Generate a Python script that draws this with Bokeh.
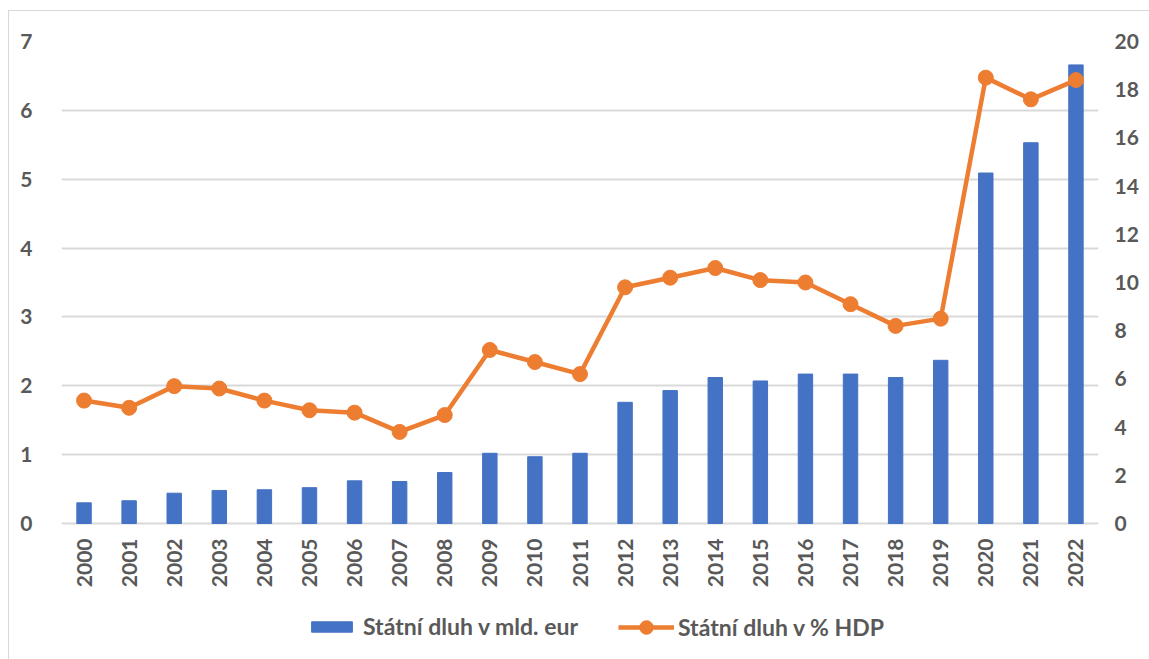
import math
from bokeh.plotting import figure
from bokeh.models import (ColumnDataSource, FactorRange, Range1d, LinearAxis,
                          FixedTicker, Legend, LegendItem)
from bokeh.embed import file_html
from bokeh.resources import INLINE

years = [str(y) for y in range(2000, 2023)]
debt_bn_eur = [0.30, 0.33, 0.44, 0.48, 0.49, 0.52, 0.62, 0.61, 0.74, 1.02, 0.97, 1.02,
               1.76, 1.93, 2.12, 2.07, 2.17, 2.17, 2.12, 2.37, 5.09, 5.53, 6.66]
debt_pct_gdp = [5.1, 4.8, 5.7, 5.6, 5.1, 4.7, 4.6, 3.8, 4.5, 7.2, 6.7, 6.2,
                9.8, 10.2, 10.6, 10.1, 10.0, 9.1, 8.2, 8.5, 18.5, 17.6, 18.4]
left_ticks = [0, 1, 2, 3, 4, 5, 6, 7]
right_ticks = [0, 2, 4, 6, 8, 10, 12, 14, 16, 18, 20]

FONT = "Lato"
GRAY = "#595959"
BLUE = "#4472C4"
ORANGE = "#ED7D31"

W, H = 1141, 649
TOP, LEFT, RIGHT = 30, 52, 52
PLOT_H = 482                      # pixel height of the 0..7 band
BELOW = H - TOP - PLOT_H          # room under the zero line for labels + legend
L_MAX, R_MAX = left_ticks[-1], right_ticks[-1]
l_min = -BELOW * L_MAX / PLOT_H
r_min = -BELOW * R_MAX / PLOT_H

src = ColumnDataSource(dict(year=years, debt=debt_bn_eur, pct=debt_pct_gdp,
                            base=[0] * len(years)))

p = figure(width=W, height=H, x_range=FactorRange(*years), y_range=Range1d(l_min, L_MAX),
           output_backend="svg", toolbar_location=None,
           min_border_left=LEFT, min_border_right=RIGHT, min_border_top=TOP, min_border_bottom=0)
p.styles = {"margin-left": "8px", "margin-top": "10px",
            "border-left": "1px solid #d9d9d9", "border-top": "1px solid #d9d9d9"}
p.outline_line_color = None
p.background_fill_color = "white"
p.border_fill_color = "white"
p.xaxis.visible = False

p.extra_y_ranges = {"pct": Range1d(r_min, R_MAX)}

bars = p.vbar(x="year", top="debt", width=0.32, source=src, fill_color=BLUE, line_color=BLUE)
ln = p.line(x="year", y="pct", source=src, y_range_name="pct", line_color=ORANGE, line_width=4.5)
sc = p.scatter(x="year", y="pct", source=src, y_range_name="pct", size=15,
               fill_color=ORANGE, line_color=ORANGE)

# category labels under the zero line
p.text(x="year", y="base", text="year", source=src, angle=math.pi / 2,
       text_align="right", text_baseline="middle", y_offset=15,
       text_font={"value": FONT}, text_font_style="bold", text_font_size="21px",
       text_color=GRAY)

p.yaxis.ticker = FixedTicker(ticks=left_ticks)
right = LinearAxis(y_range_name="pct", ticker=FixedTicker(ticks=right_ticks))
p.add_layout(right, "right")

for ax in [p.yaxis[0], right]:
    ax.axis_line_color = None
    ax.major_tick_line_color = None
    ax.minor_tick_line_color = None
    ax.major_label_text_font = FONT
    ax.major_label_text_font_style = "bold"
    ax.major_label_text_font_size = "21px"
    ax.major_label_text_color = GRAY
p.yaxis[0].major_label_standoff = 23
right.major_label_standoff = 10

p.xgrid.grid_line_color = None
p.ygrid.grid_line_color = "#d9d9d9"
p.ygrid.grid_line_width = 2

common = dict(orientation="horizontal",
              label_text_font=FONT, label_text_font_style="bold",
              label_text_font_size="23px", label_text_color=GRAY,
              border_line_color=None, background_fill_alpha=0, padding=0, margin=0)
leg1 = Legend(items=[LegendItem(label="Státní dluh v mld. eur", renderers=[bars])],
              location=(245, 20), glyph_width=51, glyph_height=13, label_standoff=6, **common)
leg2 = Legend(items=[LegendItem(label="Státní dluh v % HDP", renderers=[ln, sc])],
              location=(557, 16), glyph_width=56, glyph_height=34, label_standoff=4, **common)
p.add_layout(leg1, "center")
p.add_layout(leg2, "center")

open("out.html", "w").write(file_html(p, INLINE))
